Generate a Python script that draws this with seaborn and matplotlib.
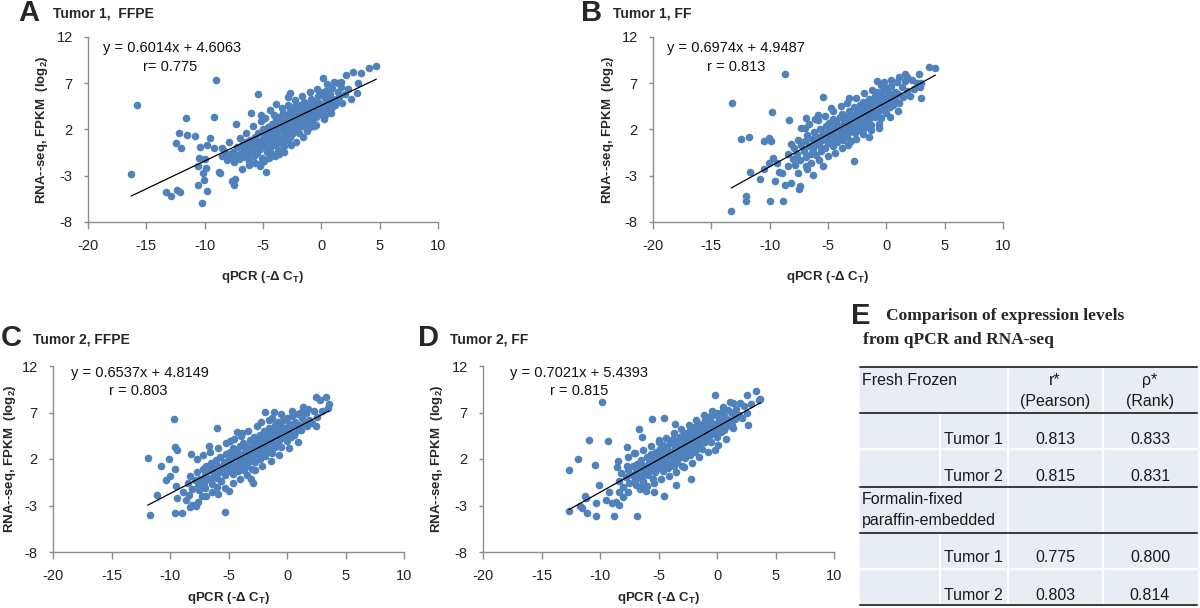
import pandas as pd
import seaborn as sns
import matplotlib.pyplot as plt

sns.set_theme(style="ticks")
plt.rcParams['font.family'] = ['Liberation Sans', 'DejaVu Sans']
plt.rcParams['mathtext.fontset'] = 'custom'
plt.rcParams['mathtext.rm'] = 'Liberation Sans'
plt.rcParams['mathtext.bf'] = 'Liberation Sans:bold'
plt.rcParams['axes.unicode_minus'] = False

# ---- data ----
x_ticks = [-20, -15, -10, -5, 0, 5, 10]
y_ticks = [-8, -3, 2, 7, 12]

tumor1_ffpe = [
    (-16.3, -2.8), (-15.8, 4.65), (-9.06, 7.35), (-13.3, -4.8), (-12.86, -5.2), (-12.34, -4.5),
    (-12.1, -4.8), (-10.2, -5.9), (-11.6, 3.2), (-9.23, 3.3), (-12.2, 1.6), (-11.5, 1.4),
    (-10.8, 1.3), (-12.5, 0.5), (-12.0, 0.0), (-9.54, 1.05), (-9.77, 0.33), (-10.4, 0.07),
    (-9.23, 0.0), (-8.49, 0.0), (-7.29, 2.6), (-10.5, -1.04), (-10.0, -1.2), (-10.57, -2.0),
    (-9.86, -2.2), (-10.14, -2.7), (-10.06, -3.5), (-10.6, -4.0), (-9.77, -4.6), (-8.8, -2.6),
    (-8.71, -2.7), (-7.63, -3.6), (-7.51, -4.0), (-7.4, -3.4), (-6.8, -2.3), (-5.43, 5.84),
    (-6.0, 3.75), (-5.14, 3.57), (-4.37, 4.11), (-3.86, 4.76), (-4.71, -2.56), (-5.14, -1.66),
    (-2.71, 5.98), (-2.86, 5.55), (0.14, 7.53), (2.14, 7.89), (2.71, 8.25), (3.43, 8.14),
    (4.09, 8.6), (4.71, 8.9), (1.71, 7.17), (1.43, 7.0), (3.09, 5.98), (3.14, 7.0),
    (1.14, 5.0), (0.91, 4.47), (0.43, 4.3), (-0.43, 2.5), (-1.0, 2.3),
    (-8.5, -0.9), (-8.3, -0.3), (-8.1, -1.3), (-8.0, -0.6), (-7.8, -1.0), (-7.6, -0.4),
    (-7.5, -1.5), (-7.3, -0.8), (-7.2, 0.1), (-7.1, -1.2), (-6.9, -0.5), (-6.8, 0.3),
    (-6.7, -1.0), (-6.6, -0.2), (-6.5, 0.6), (-6.4, -0.8), (-6.3, 0.0), (-6.2, -1.4),
    (-6.1, 0.9), (-6.0, -0.3), (-5.9, 0.4), (-5.8, -0.9), (-5.7, 1.2), (-5.6, 0.1),
    (-5.5, -0.5), (-5.5, 0.8), (-5.4, 1.6), (-5.3, -0.1), (-5.2, 0.5), (-5.1, -1.1),
    (-5.0, 1.0), (-5.0, 2.0), (-4.9, 0.2), (-4.8, 1.4), (-4.7, -0.4), (-4.7, 0.8),
    (-4.6, 2.3), (-4.5, 1.1), (-4.4, 0.0), (-4.4, 1.8), (-4.3, 0.6), (-4.2, 2.6),
    (-4.2, -0.7), (-4.1, 1.3), (-4.0, 0.3), (-4.0, 2.0), (-3.9, 1.6), (-3.9, 3.0),
    (-3.8, 0.8), (-3.7, 2.3), (-3.7, -0.2), (-3.6, 1.2), (-3.6, 3.4), (-3.5, 0.5),
    (-3.5, 2.7), (-3.4, 1.9), (-3.3, 1.0), (-3.3, 3.8), (-3.2, 2.4), (-3.2, 0.2),
    (-3.1, 1.5), (-3.0, 3.1), (-3.0, 2.0), (-2.9, 0.9), (-2.9, 3.6), (-2.8, 2.6),
    (-2.8, 1.7), (-2.7, 4.2), (-2.7, 1.2), (-2.6, 3.0), (-2.6, 2.2), (-2.5, 3.9),
    (-2.5, 1.5), (-2.4, 2.8), (-2.3, 4.5), (-2.3, 3.3), (-2.2, 2.0), (-2.1, 3.7),
    (-2.0, 2.6), (-2.0, 4.1), (-1.9, 3.1), (-1.9, 1.6), (-1.8, 4.6), (-1.8, 2.4),
    (-1.7, 3.5), (-1.6, 4.0), (-1.6, 2.9), (-1.5, 3.3), (-1.5, 5.0), (-1.4, 2.3),
    (-1.3, 4.3), (-1.3, 3.7), (-1.2, 2.8), (-1.1, 4.8), (-1.1, 3.2), (-1.0, 4.0),
    (-0.9, 5.3), (-0.9, 3.5), (-0.8, 2.9), (-0.8, 4.4), (-0.7, 3.9), (-0.6, 5.0),
    (-0.5, 3.3), (-0.5, 4.6), (-0.4, 4.1), (-0.3, 5.6), (-0.3, 3.6), (-0.2, 4.9),
    (-0.1, 4.3), (0.0, 5.8), (0.0, 3.8), (0.1, 6.0), (0.2, 4.7), (0.3, 5.4),
    (0.3, 3.6), (0.4, 6.2), (0.5, 4.4), (0.6, 5.1), (0.7, 5.8), (0.8, 4.8),
    (0.9, 6.5), (1.0, 5.3), (1.2, 4.6), (1.4, 6.1), (1.5, 5.5), (1.7, 6.6),
    (1.8, 4.9), (2.0, 5.8), (2.3, 6.4), (2.5, 5.3),
    (-6.2, -1.8), (-5.7, -1.6), (-5.3, -2.0), (-4.9, -1.4), (-4.5, -1.1), (-4.0, -0.9),
    (-3.6, -0.6), (-3.2, -0.4), (-2.6, 0.3), (-2.2, 0.6), (-1.6, 1.2), (-1.2, 1.8),
    (-0.6, 2.4), (0.2, 3.1), (0.8, 3.8), (-6.5, 1.6), (-5.9, 2.4), (-5.2, 2.9),
    (-4.8, 3.2), (-4.1, 3.6), (-3.4, 4.3), (-2.9, 4.7), (-2.3, 5.2), (-1.7, 5.6),
    (-1.0, 6.0), (-0.4, 6.4), (0.5, 6.9), (1.1, 7.1), (-7.9, 0.7), (-7.0, 1.1),
]

tumor1_ff = [
    (-13.3, -6.8), (-13.2, 4.83), (-8.66, 8.0), (-12.0, -5.15), (-12.0, -5.7), (-10.0, -5.7),
    (-8.9, -5.7), (-12.5, 0.94), (-11.8, 1.16), (-10.46, 0.8), (-10.1, 1.05), (-9.86, 0.76),
    (-9.8, 3.86), (-8.37, 3.03), (-11.66, -2.56), (-10.8, -3.4), (-9.57, -3.53), (-8.66, -4.0),
    (-8.14, -3.75), (-7.5, -4.47), (-7.43, -4.1), (-10.46, -2.3), (-10.1, -1.66), (-9.74, -1.1),
    (-9.37, -1.66), (-9.23, -2.56), (-8.94, -2.74), (-8.4, -2.0), (-7.8, -1.8), (-7.6, -2.7),
    (-6.9, -1.9), (-6.8, -2.3), (-6.3, -2.9), (-5.46, 5.55), (-4.71, 4.35), (-6.86, 3.21),
    (-6.09, 3.1), (-5.86, 3.57), (-7.0, 2.13), (-3.23, 5.44), (-2.8, -1.4), (-5.46, -1.9),
    (-0.8, 7.28), (-0.23, 7.17), (1.06, 7.71), (1.77, 7.71), (2.77, 7.96), (3.63, 8.72),
    (4.2, 8.6), (3.0, 5.44), (3.0, 7.0), (-0.66, 2.13), (-1.46, 1.2),
    (-8.4, -0.6), (-8.2, 0.4), (-8.0, -1.2), (-7.9, 0.0), (-7.7, -0.6), (-7.6, 0.9),
    (-7.4, -1.3), (-7.3, 0.3), (-7.1, -0.3), (-7.0, 0.8), (-6.9, -1.0), (-6.8, 1.4),
    (-6.6, 0.2), (-6.5, -0.6), (-6.4, 1.0), (-6.3, -0.1), (-6.2, 1.7), (-6.1, 0.5),
    (-6.0, -0.8), (-5.9, 1.2), (-5.8, 0.3), (-5.7, 2.0), (-5.6, -0.3), (-5.5, 0.9),
    (-5.4, 1.6), (-5.3, 0.0), (-5.2, 2.4), (-5.1, 1.1), (-5.0, 0.5), (-5.0, 1.9),
    (-4.9, 2.7), (-4.8, 0.8), (-4.7, 1.5), (-4.6, 3.1), (-4.6, 0.2), (-4.5, 2.2),
    (-4.4, 1.2), (-4.3, 2.8), (-4.2, 0.6), (-4.1, 1.8), (-4.0, 3.3), (-4.0, 1.0),
    (-3.9, 2.4), (-3.8, 1.5), (-3.8, 3.7), (-3.7, 0.9), (-3.6, 2.9), (-3.5, 2.0),
    (-3.5, 3.4), (-3.4, 1.2), (-3.3, 2.6), (-3.2, 4.0), (-3.2, 1.7), (-3.1, 3.1),
    (-3.0, 2.2), (-3.0, 0.8), (-2.9, 3.6), (-2.8, 2.7), (-2.8, 4.4), (-2.7, 1.6),
    (-2.6, 3.2), (-2.5, 2.3), (-2.5, 4.0), (-2.4, 3.5), (-2.3, 1.9), (-2.3, 4.7),
    (-2.2, 2.8), (-2.1, 3.9), (-2.0, 3.0), (-2.0, 5.0), (-1.9, 2.2), (-1.9, 4.2),
    (-1.8, 3.5), (-1.7, 4.8), (-1.7, 2.7), (-1.6, 3.9), (-1.5, 3.1), (-1.5, 5.3),
    (-1.4, 4.4), (-1.3, 2.5), (-1.2, 3.7), (-1.2, 5.0), (-1.1, 4.2), (-1.0, 3.3),
    (-1.0, 5.6), (-0.9, 4.6), (-0.8, 3.6), (-0.8, 6.0), (-0.7, 5.1), (-0.6, 4.0),
    (-0.5, 5.6), (-0.5, 3.2), (-0.4, 4.8), (-0.3, 6.2), (-0.2, 4.3), (-0.1, 5.4),
    (0.0, 3.8), (0.0, 6.5), (0.1, 5.0), (0.2, 5.9), (0.3, 4.4), (0.4, 6.7),
    (0.5, 5.4), (0.6, 4.7), (0.7, 6.1), (0.8, 5.1), (0.9, 7.1), (1.0, 5.8),
    (1.1, 4.9), (1.3, 6.6), (1.4, 5.5), (1.6, 7.2), (1.8, 6.2), (2.0, 5.6),
    (2.2, 7.4), (2.4, 6.4), (2.6, 7.0), (2.9, 6.6),
    (-6.5, -1.6), (-5.8, -1.3), (-5.0, -0.9), (-4.4, -0.5), (-3.8, 0.0), (-3.3, 0.3),
    (-2.6, 1.0), (-2.0, 1.5), (-1.3, 1.9), (-0.6, 2.6), (0.3, 3.4), (1.0, 4.0),
    (-7.3, 2.2), (-6.6, 2.6), (-5.9, 3.0), (-5.3, 3.5), (-4.6, 4.0), (-3.9, 4.5),
    (-3.4, 4.9), (-2.6, 5.4), (-1.9, 5.9), (-1.2, 6.3), (-0.5, 6.8), (0.4, 7.3), (1.6, 8.0),
]

tumor2_ffpe = [
    (-11.7, -4.06), (-11.9, 2.14), (-9.7, 6.26), (-9.6, 3.3), (-9.4, 2.97), (-11.1, -1.87),
    (-10.8, 1.25), (-10.1, 2.0), (-9.58, -3.77), (-9.0, -3.77), (-5.3, -3.7), (-10.3, -0.26),
    (-10.0, 0.17), (-9.58, 0.96), (-9.5, -0.9), (-9.4, -2.2), (-8.9, -1.5), (-8.6, -2.4),
    (-8.4, -1.9), (-8.1, -2.9), (-7.8, -3.1), (-7.6, -2.6), (-8.3, -3.2), (-8.2, 2.5),
    (-7.65, 2.0), (-6.0, 5.37), (-6.67, 3.4), (-4.26, 4.9), (-3.84, 4.76), (-4.83, 3.96),
    (-5.0, -1.4), (-5.95, -0.97), (-6.9, -2.0), (-7.0, -1.1), (-7.5, -1.3), (-7.3, -2.0),
    (-1.9, 7.1), (-1.1, 7.1), (2.5, 8.7), (3.3, 8.7), (2.8, 8.35), (3.5, 7.45),
    (2.5, 5.6), (1.7, 5.6), (1.1, 6.9), (1.8, 7.4), (-1.5, 6.2), (-3.1, -0.2), (-2.9, -0.6),
    (-8.5, -0.6), (-8.3, 0.2), (-8.1, -1.2), (-7.9, -0.3), (-7.7, 0.6), (-7.6, -0.9),
    (-7.4, -0.1), (-7.2, 0.9), (-7.1, -0.6), (-7.0, 0.3), (-6.9, 1.2), (-6.8, -0.2),
    (-6.7, 0.8), (-6.5, 1.6), (-6.5, 0.0), (-6.4, -0.7), (-6.3, 1.0), (-6.2, 0.4),
    (-6.1, 1.9), (-6.0, 0.0), (-5.9, 1.3), (-5.8, 0.6), (-5.7, 2.2), (-5.6, -0.4),
    (-5.5, 1.0), (-5.4, 1.7), (-5.3, 0.3), (-5.2, 2.5), (-5.1, 1.3), (-5.0, 0.7),
    (-5.0, 2.0), (-4.9, 2.8), (-4.8, 1.0), (-4.7, 1.6), (-4.6, 3.2), (-4.6, 0.4),
    (-4.5, 2.3), (-4.4, 1.3), (-4.3, 2.9), (-4.2, 0.7), (-4.1, 1.9), (-4.0, 3.4),
    (-4.0, 1.1), (-3.9, 2.4), (-3.8, 1.6), (-3.8, 3.7), (-3.7, 0.8), (-3.6, 2.9),
    (-3.5, 2.0), (-3.5, 3.4), (-3.4, 1.3), (-3.3, 2.6), (-3.2, 4.0), (-3.2, 1.8),
    (-3.1, 3.1), (-3.0, 2.3), (-3.0, 0.9), (-2.9, 3.7), (-2.8, 2.8), (-2.8, 4.4),
    (-2.7, 1.7), (-2.6, 3.3), (-2.5, 2.4), (-2.5, 4.0), (-2.4, 3.5), (-2.3, 2.0),
    (-2.3, 4.6), (-2.2, 2.9), (-2.1, 3.9), (-2.0, 3.1), (-2.0, 5.0), (-1.9, 2.3),
    (-1.9, 4.2), (-1.8, 3.5), (-1.7, 4.8), (-1.7, 2.7), (-1.6, 3.9), (-1.5, 3.1),
    (-1.5, 5.3), (-1.4, 4.4), (-1.3, 2.6), (-1.2, 3.7), (-1.2, 5.0), (-1.1, 4.2),
    (-1.0, 3.3), (-1.0, 5.7), (-0.9, 4.6), (-0.8, 3.7), (-0.8, 6.0), (-0.7, 5.1),
    (-0.6, 4.1), (-0.5, 5.5), (-0.5, 3.3), (-0.4, 4.8), (-0.3, 6.2), (-0.2, 4.4),
    (-0.1, 5.3), (0.0, 3.9), (0.0, 6.4), (0.1, 5.0), (0.2, 5.8), (0.3, 4.4),
    (0.4, 6.6), (0.5, 5.3), (0.6, 4.6), (0.7, 6.0), (0.8, 5.0), (0.9, 6.8),
    (1.0, 5.7), (1.2, 5.1), (1.3, 6.4), (1.5, 5.8), (1.6, 6.9), (1.9, 6.2),
    (2.1, 5.9), (2.3, 7.2), (2.6, 6.5), (3.0, 7.2), (3.6, 7.9),
    (-6.4, -1.5), (-5.9, -1.8), (-5.3, -1.1), (-4.6, -0.6), (-4.0, -0.2), (-3.4, 0.3),
    (-2.7, 0.8), (-2.1, 1.2), (-1.4, 1.8), (-0.7, 2.4), (0.2, 3.2), (0.9, 3.8),
    (-7.2, 2.4), (-6.6, 2.8), (-5.9, 3.2), (-5.2, 3.7), (-4.5, 4.1), (-3.9, 4.5),
    (-3.3, 5.0), (-2.6, 5.5), (-2.2, 6.0), (-1.3, 6.4), (-0.5, 6.8), (0.4, 7.2), (1.4, 7.6),
]

tumor2_ff = [
    (-12.66, -3.56), (-12.66, 0.82), (-11.9, 2.0), (-10.9, 4.04), (-10.4, 1.35), (-9.8, 8.16),
    (-9.3, 3.9), (-11.7, -3.1), (-11.57, -3.3), (-11.1, -3.77), (-11.3, -2.0), (-11.2, -2.2),
    (-10.37, -4.1), (-10.37, -2.77), (-10.1, -0.8), (-8.77, -4.1), (-6.86, -4.1), (-9.5, -2.4),
    (-9.2, -1.5), (-9.0, -2.7), (-8.6, -2.6), (-8.4, -2.9), (-8.0, -2.1), (-8.4, -1.5),
    (-7.6, -1.5), (-7.7, 3.3), (-7.6, 2.25), (-7.1, 2.6), (-6.7, 5.2), (-6.43, 4.4),
    (-5.57, 6.27), (-4.49, 6.37), (-3.6, 5.76), (-4.94, 4.04), (-8.43, 1.8), (-8.57, 1.1),
    (-7.7, 1.25), (-4.57, -1.98), (-5.4, -1.5), (-6.1, -1.4), (-2.2, -0.2), (-0.14, 8.88),
    (1.14, 8.16), (2.0, 8.06), (2.57, 8.88), (3.34, 9.35), (3.63, 8.35), (2.63, 5.66),
    (1.3, 5.66), (1.4, 5.3), (-6.4, -0.9), (-6.9, -0.8), (-3.5, -0.8),
    (-8.4, -0.4), (-8.2, 0.5), (-8.0, -1.0), (-7.8, 0.1), (-7.6, 0.8), (-7.5, -0.6),
    (-7.3, 0.3), (-7.2, 1.2), (-7.0, -0.3), (-6.9, 0.6), (-6.8, 1.5), (-6.7, 0.0),
    (-6.6, 1.0), (-6.5, 1.9), (-6.4, 0.3), (-6.3, -0.4), (-6.2, 1.3), (-6.1, 0.7),
    (-6.0, 2.2), (-5.9, 0.3), (-5.8, 1.6), (-5.7, 0.9), (-5.6, 2.5), (-5.5, -0.1),
    (-5.5, 1.3), (-5.4, 2.0), (-5.3, 0.6), (-5.2, 2.8), (-5.1, 1.6), (-5.0, 1.0),
    (-5.0, 2.3), (-4.9, 3.1), (-4.8, 1.3), (-4.7, 2.0), (-4.6, 3.5), (-4.6, 0.7),
    (-4.5, 2.6), (-4.4, 1.6), (-4.3, 3.2), (-4.2, 1.0), (-4.1, 2.2), (-4.0, 3.7),
    (-4.0, 1.4), (-3.9, 2.8), (-3.8, 1.9), (-3.8, 4.1), (-3.7, 1.2), (-3.6, 3.3),
    (-3.5, 2.4), (-3.5, 3.8), (-3.4, 1.7), (-3.3, 3.0), (-3.2, 4.4), (-3.2, 2.2),
    (-3.1, 3.5), (-3.0, 2.7), (-3.0, 1.3), (-2.9, 4.1), (-2.8, 3.2), (-2.8, 4.8),
    (-2.7, 2.1), (-2.6, 3.7), (-2.5, 2.8), (-2.5, 4.5), (-2.4, 3.9), (-2.3, 2.4),
    (-2.3, 5.1), (-2.2, 3.3), (-2.1, 4.3), (-2.0, 3.6), (-2.0, 5.4), (-1.9, 2.8),
    (-1.9, 4.7), (-1.8, 4.0), (-1.7, 5.3), (-1.7, 3.2), (-1.6, 4.4), (-1.5, 3.6),
    (-1.5, 5.8), (-1.4, 4.9), (-1.3, 3.1), (-1.2, 4.2), (-1.2, 5.5), (-1.1, 4.7),
    (-1.0, 3.8), (-1.0, 6.2), (-0.9, 5.1), (-0.8, 4.2), (-0.8, 6.5), (-0.7, 5.6),
    (-0.6, 4.6), (-0.5, 6.0), (-0.5, 3.8), (-0.4, 5.3), (-0.3, 6.7), (-0.2, 4.9),
    (-0.1, 5.8), (0.0, 4.4), (0.0, 6.9), (0.1, 5.5), (0.2, 6.3), (0.3, 4.9),
    (0.4, 7.1), (0.5, 5.8), (0.6, 5.1), (0.7, 6.5), (0.8, 5.5), (0.9, 7.3),
    (1.0, 6.2), (1.2, 5.6), (1.3, 6.9), (1.5, 6.3), (1.6, 7.4), (1.9, 6.7),
    (2.1, 6.4), (2.3, 7.7), (2.6, 7.0), (2.9, 7.9), (3.7, 8.5),
    (-6.6, -1.2), (-6.0, -0.9), (-5.4, -0.6), (-4.8, -0.2), (-4.1, 0.2), (-3.5, 0.6),
    (-2.8, 1.1), (-2.1, 1.6), (-1.5, 2.2), (-0.8, 2.8), (0.1, 3.5), (0.8, 4.1), (-0.2, 3.0),
    (-7.0, 2.6), (-6.3, 3.0), (-5.6, 3.4), (-5.0, 3.8), (-4.4, 4.3), (-3.7, 4.8),
    (-3.1, 5.2), (-2.4, 5.7), (-1.8, 6.2), (-1.1, 6.7), (-0.4, 7.2), (0.5, 7.6), (1.4, 8.0),
]

panel_letters = ["A", "B", "C", "D"]
panel_titles = ["Tumor 1,  FFPE", "Tumor 1, FF", "Tumor 2, FFPE", "Tumor 2, FF"]
slopes = [0.6014, 0.6974, 0.6537, 0.7021]
intercepts = [4.6063, 4.9487, 4.8149, 5.4393]
r_labels = ["r= 0.775", "r = 0.813", "r = 0.803", "r = 0.815"]

tbl_title = "Comparison of expression levels\nfrom qPCR and RNA-seq"
tbl_groups = ["Fresh Frozen", "Formalin-fixed\nparaffin-embedded"]
tbl_tumors = ["Tumor 1", "Tumor 2"]
pearson_ff = ["0.813", "0.815"]
rank_ff = ["0.833", "0.831"]
pearson_ffpe = ["0.775", "0.803"]
rank_ffpe = ["0.800", "0.814"]

BLUE = "#4F81BD"
W, H = 1200, 608


def fx(x):
    return x / W


def fy(y):
    return 1 - y / H


fig = plt.figure(figsize=(12, 6.08), dpi=100)

# axes boxes in pixels: left, top, right, bottom
boxes = [(88, 37, 438, 222), (653, 37, 1003, 222), (53, 366, 404, 552), (483, 366, 834, 552)]
letter_pos = [(29, 13), (592, 13), (11, 338), (429, 338)]
title_pos = [(53, 13), (613, 13), (33, 340), (450, 340)]
eq_pos = [(0.043, 0.94, 0.157, 0.84), (0.04, 0.94, 0.153, 0.84),
          (0.05, 0.965, 0.16, 0.865), (0.077, 0.965, 0.19, 0.865)]
xpads = [12, 12, 5, 5]
ypads = [5, 4, 2.5, 4.5]
datasets = [tumor1_ffpe, tumor1_ff, tumor2_ffpe, tumor2_ff]

for i, pts in enumerate(datasets):
    l, t, r, b = boxes[i]
    ax = fig.add_axes([fx(l), fy(b), (r - l) / W, (b - t) / H])
    df = pd.DataFrame(pts, columns=["qpcr", "rnaseq"])
    sns.scatterplot(data=df, x="qpcr", y="rnaseq", ax=ax, color=BLUE, s=30,
                    linewidth=0, zorder=2, legend=False)
    # Excel trendline from the printed equation
    xs = [df["qpcr"].min(), df["qpcr"].max()]
    line = pd.DataFrame({"x": xs, "y": [slopes[i] * v + intercepts[i] for v in xs]})
    sns.lineplot(data=line, x="x", y="y", ax=ax, color="black", linewidth=0.9, zorder=3)

    ax.set_xlim(-20, 10)
    ax.set_ylim(-8, 12)
    ax.set_xticks(x_ticks)
    ax.set_yticks(y_ticks)
    sns.despine(ax=ax)
    for s in ["left", "bottom"]:
        ax.spines[s].set_color("#8C8C8C")
        ax.spines[s].set_linewidth(1)
    ax.tick_params(axis="x", length=5, width=1, color="#8C8C8C", pad=7, labelsize=10.5, labelcolor="#222222")
    ax.tick_params(axis="y", length=3, width=1, color="#8C8C8C", pad=8, labelsize=10.5, labelcolor="#222222")
    ax.set_xlabel("qPCR (-Δ C$_\\mathbf{T}$)", fontsize=9.5, fontweight="bold", labelpad=xpads[i])
    ax.set_ylabel("RNA--seq, FPKM  (log$_\\mathbf{2}$)", fontsize=9.5, fontweight="bold", labelpad=ypads[i])

    ex, ey, rx, ry = eq_pos[i]
    ax.text(ex, ey, f"y = {slopes[i]:.4f}x + {intercepts[i]:.4f}", transform=ax.transAxes,
            fontsize=10.5, va="center", ha="left", color="#111111")
    ax.text(rx, ry, r_labels[i], transform=ax.transAxes,
            fontsize=10.5, va="center", ha="left", color="#111111")

    lx, ly = letter_pos[i]
    fig.text(fx(lx), fy(ly), panel_letters[i], fontsize=21, fontweight="black",
             ha="center", va="center")
    tx, ty = title_pos[i]
    fig.text(fx(tx), fy(ty), panel_titles[i], fontsize=10, fontweight="bold",
             ha="left", va="center")

# ---- panel E: table ----
fig.text(fx(861), fy(316), "E", fontsize=21, fontweight="black", ha="center", va="center")
t_lines = tbl_title.split("\n")
fig.text(fx(886), fy(316), t_lines[0], fontsize=12.5, fontweight="bold",
         family="Liberation Serif", ha="left", va="center")
fig.text(fx(863), fy(340), t_lines[1], fontsize=12.5, fontweight="bold",
         family="Liberation Serif", ha="left", va="center")

axt = fig.add_axes([fx(858), fy(607), (1200 - 858) / W, (607 - 364) / H])
axt.set_xlim(858, 1200)
axt.set_ylim(607, 364)
axt.axis("off")

BG = "#E8ECF3"
DARK = "#3A3A3A"
axt.add_patch(plt.Rectangle((860, 367), 337, 238, color=BG, zorder=0))
for xv in [1008, 1103]:
    axt.plot([xv, xv], [367, 605], color="white", lw=1.6, zorder=1)
for (y0, y1) in [(413, 487), (533, 605)]:
    axt.plot([940, 940], [y0, y1], color="white", lw=1.6, zorder=1)
for yv in [449, 569]:
    axt.plot([860, 1197], [yv, yv], color="white", lw=1.6, zorder=1)
for yv in [367, 413, 487, 533, 605]:
    axt.plot([860, 1197], [yv, yv], color=DARK, lw=1.4, zorder=2)

tfs = 11.5
tc = "#1A1A1A"
axt.text(862, 381, tbl_groups[0], fontsize=tfs, ha="left", va="center", color=tc)
axt.text(1055, 381, "r*", fontsize=tfs, ha="center", va="center", color=tc)
axt.text(1055, 402, "(Pearson)", fontsize=tfs, ha="center", va="center", color=tc)
axt.text(1150, 381, "ρ*", fontsize=tfs, ha="center", va="center", color=tc)
axt.text(1150, 402, "(Rank)", fontsize=tfs, ha="center", va="center", color=tc)
grp2 = tbl_groups[1].split("\n")
axt.text(862, 500, grp2[0], fontsize=tfs, ha="left", va="center", color=tc)
axt.text(862, 521, grp2[1], fontsize=tfs, ha="left", va="center", color=tc)

row_y_ff = [440, 477]
row_y_ffpe = [558, 596]
for j in range(2):
    for ys, pr, rk in [(row_y_ff, pearson_ff, rank_ff), (row_y_ffpe, pearson_ffpe, rank_ffpe)]:
        axt.text(1003, ys[j], tbl_tumors[j], fontsize=tfs, ha="right", va="center", color=tc)
        axt.text(1055, ys[j], pr[j], fontsize=tfs, ha="center", va="center", color=tc)
        axt.text(1150, ys[j], rk[j], fontsize=tfs, ha="center", va="center", color=tc)

fig.savefig("out.png", dpi=100)
